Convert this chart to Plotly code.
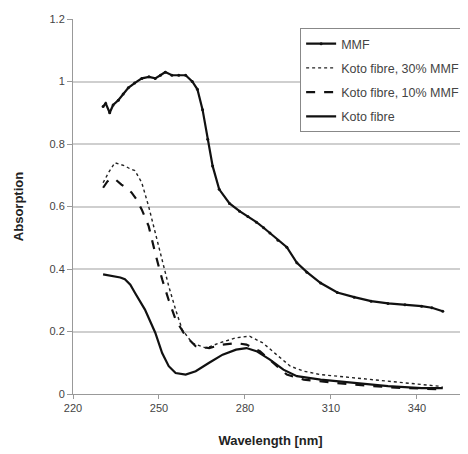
import plotly.graph_objects as go

# Wavelength [nm] / absorption values
mmf_x = [230.5, 231.4, 232.8, 234.0, 235.8, 237.5, 239.3, 241.5, 244.0, 246.5, 248.7, 250.5, 252.2, 254.5,
         256.9, 259.3, 261.6, 263.4, 265.2, 267.0, 268.7, 271.0, 274.6, 278.1, 281.0, 284.0, 286.5, 288.7,
         291.5, 294.6, 298.1, 301.6, 306.4, 312.2, 318.1, 324.0, 329.9, 335.8, 341.6, 345.2, 349.0]
mmf_y = [0.92, 0.93, 0.90, 0.925, 0.94, 0.96, 0.98, 0.995, 1.01, 1.015, 1.01, 1.02, 1.03, 1.02,
         1.02, 1.02, 1.00, 0.975, 0.91, 0.815, 0.73, 0.655, 0.61, 0.585, 0.568, 0.55, 0.532, 0.515,
         0.492, 0.47, 0.42, 0.39, 0.355, 0.325, 0.31, 0.297, 0.29, 0.286, 0.281, 0.276, 0.265]

k30_x = [230.5, 232.5, 234.6, 236.5, 238.1, 240.0, 241.6, 244.0, 246.4, 248.7, 251.1, 253.4, 255.8, 258.1,
         261.6, 266.4, 271.0, 276.9, 281.6, 286.3, 291.0, 295.8, 300.5, 306.4, 312.2, 318.0, 324.0, 330.0,
         335.8, 341.6, 347.6, 349.0]
k30_y = [0.676, 0.71, 0.74, 0.735, 0.73, 0.72, 0.715, 0.676, 0.60, 0.516, 0.43, 0.345, 0.27, 0.206,
         0.163, 0.147, 0.163, 0.18, 0.185, 0.163, 0.126, 0.089, 0.073, 0.062, 0.057, 0.052, 0.046, 0.040,
         0.035, 0.030, 0.025, 0.022]

k10_x = [230.5, 232.0, 233.4, 235.0, 236.9, 238.5, 240.4, 242.0, 244.0, 246.4, 248.7, 251.1, 253.4, 255.8,
         259.3, 262.8, 267.5, 272.2, 276.9, 280.5, 285.2, 289.9, 294.6, 300.5, 306.0, 312.2, 318.0, 324.0,
         330.0, 335.8, 341.6, 347.6, 349.0]
k10_y = [0.66, 0.68, 0.69, 0.685, 0.67, 0.66, 0.645, 0.625, 0.59, 0.537, 0.45, 0.367, 0.30, 0.238,
         0.185, 0.153, 0.147, 0.158, 0.163, 0.158, 0.137, 0.10, 0.062, 0.046, 0.040, 0.035, 0.030, 0.025,
         0.022, 0.019, 0.017, 0.014, 0.015]

koto_x = [230.5, 232.5, 234.6, 236.5, 238.1, 240.0, 241.6, 245.1, 248.7, 251.1, 253.4, 255.8, 259.3, 262.8,
          267.5, 272.2, 276.9, 280.5, 284.0, 288.7, 293.4, 298.1, 306.4, 318.1, 329.9, 341.6, 349.0]
koto_y = [0.383, 0.38, 0.377, 0.373, 0.367, 0.35, 0.324, 0.27, 0.196, 0.131, 0.089, 0.067, 0.062, 0.073,
          0.10, 0.126, 0.142, 0.147, 0.137, 0.11, 0.078, 0.057, 0.046, 0.035, 0.025, 0.019, 0.019]

x_ticks = [220, 250, 280, 310, 340]
y_ticks = [0, 0.2, 0.4, 0.6, 0.8, 1, 1.2]
y_tick_text = ["0", "0.2", "0.4", "0.6", "0.8", "1", "1.2"]

fig = go.Figure()
fig.add_trace(go.Scatter(x=mmf_x, y=mmf_y, name="MMF", mode="lines+markers", legendgroup="a",
                         line=dict(color="#111", width=2.2), marker=dict(size=3, color="#111")))
fig.add_trace(go.Scatter(x=k30_x, y=k30_y, name="Koto fibre, 30% MMF", mode="lines", legendgroup="b",
                         line=dict(color="#222", width=1.4, dash="dot")))
fig.add_trace(go.Scatter(x=k10_x, y=k10_y, name="Koto fibre, 10% MMF", mode="lines", legendgroup="c",
                         line=dict(color="#111", width=2.2, dash="dash")))
fig.add_trace(go.Scatter(x=koto_x, y=koto_y, name="Koto fibre", mode="lines", legendgroup="d",
                         line=dict(color="#111", width=2.2)))

# page body has an 8px default margin, so the figure is sized to end at the window edge
fig.update_layout(
    width=460, height=446,
    margin=dict(l=65, r=0, t=11, b=60),
    paper_bgcolor="white", plot_bgcolor="white",
    font=dict(family="Liberation Sans, Arial, sans-serif", color="#444", size=11),
    showlegend=True,
    legend=dict(x=0.575, y=0.976, xanchor="left", yanchor="top",
                bordercolor="#888", borderwidth=1, bgcolor="white",
                font=dict(size=12.5, color="#444"), tracegroupgap=5,
                traceorder="grouped"),
    xaxis=dict(range=[220, 357.8], tickvals=x_ticks, showgrid=False, zeroline=False,
               showline=True, linecolor="#999", linewidth=1, ticks="outside", ticklen=4,
               tickcolor="#999",
               title=dict(text="<b>Wavelength [nm]</b>", font=dict(size=13, color="#222"), standoff=22)),
    yaxis=dict(range=[0, 1.2], tickvals=y_ticks, ticktext=y_tick_text, showgrid=True,
               gridcolor="#cfcfcf", gridwidth=1.5, zeroline=False,
               showline=True, linecolor="#999", linewidth=1, ticks="outside", ticklen=5,
               tickcolor="#999",
               title=dict(text="<b>Absorption</b>", font=dict(size=13, color="#222"), standoff=22)),
)

fig.write_html("out.html")
